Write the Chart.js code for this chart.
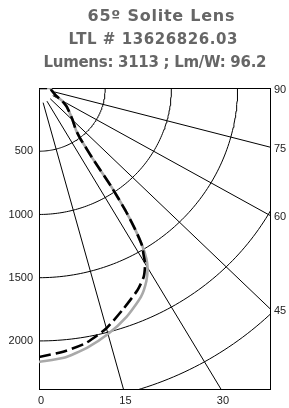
<!DOCTYPE html>
<html>
<head>
<meta charset="utf-8">
<script src="https://cdn.jsdelivr.net/npm/chart.js@4"></script>
<style>
  body { margin: 0; background: #fff; }
</style>
</head>
<body>
<canvas id="myChart" width="289" height="408"></canvas>
<script>
// title lines
const titulo = ['65º Solite Lens', 'LTL # 13626826.03', 'Lumens: 3113 ; Lm/W: 96.2'];

// candela distribution (angle from nadir, degrees -> candela)
const angulos = [0, 5, 10, 15, 20, 25, 28, 30, 31, 32, 33, 34, 35, 36, 37, 38, 40, 45, 50, 55, 60, 65, 70, 75, 80, 85, 90, 92.5];
const candelaSolida = [2166, 2142, 2086, 2014, 1928, 1822, 1728, 1640, 1575, 1475, 1335, 1165, 950, 690, 580, 505, 435, 360, 300, 255, 200, 140, 120, 105, 95, 90, 88, 0];
const candelaPunteada = [2127, 2093, 2047, 1967, 1860, 1762, 1687, 1603, 1532, 1470, 1335, 1165, 950, 690, 580, 505, 435, 360, 300, 255, 200, 140, 120, 105, 95, 90, 88, 0];

// grid
const radios = [500, 1000, 1500, 2000, 2500];
const rayos = [0, 15, 30, 45, 60, 75, 90];
const ticksCandela = [500, 1000, 1500, 2000];
const ticksAbajo = [0, 15, 30];
const ticksDerecha = [90, 75, 60, 45];

// visible range of the box (candela)
const XMAX = 1745;
const YMAX = 2380;

const rad = a => a * Math.PI / 180;
const polar = (r, a) => ({ x: r * Math.sin(rad(a)), y: r * Math.cos(rad(a)) });

const circulos = radios.map(r => {
    const pts = [];
    for (let a = 0; a <= 90; a += 1) pts.push(polar(r, a));
    return pts;
});
const lineasRayos = rayos.map(a => [polar(120, a), polar(6000, a)]);

const gridSets = [...circulos, ...lineasRayos].map(pts => ({
    data: pts,
    showLine: true,
    borderColor: '#000',
    borderWidth: 1,
    pointRadius: 0,
    order: 5
}));

// title: left edge, baseline, width, font size of each line
const tituloPlugin = {
    id: 'tituloPlugin',
    afterDraw(chart) {
        const c = chart.ctx;
        const lineas = [[87.5, 20.5, 147, 16], [68.5, 44, 169, 15], [43.5, 67, 223, 15]];
        c.save();
        c.fillStyle = '#666';
        c.textAlign = 'left';
        c.textBaseline = 'alphabetic';
        titulo.forEach((t, i) => {
            const [x, y, w, size] = lineas[i];
            c.font = 'bold ' + size + 'px "DejaVu Sans"';
            c.letterSpacing = '0px';
            const medida = c.measureText(t).width;
            c.letterSpacing = ((w - medida) / (t.length - 1)) + 'px';
            c.fillText(t, x, y);
        });
        c.restore();
    }
};

const fuente = { family: 'Liberation Sans, Arial', size: 11 };

new Chart(document.getElementById('myChart'), {
    type: 'scatter',
    data: {
        datasets: [
            {
                data: angulos.map((a, i) => polar(candelaPunteada[i], a)),
                showLine: true,
                borderColor: '#000',
                borderWidth: 2.6,
                borderDash: [12, 5],
                pointRadius: 0,
                tension: 0.2,
                order: 0
            },
            {
                data: angulos.map((a, i) => polar(candelaSolida[i], a)),
                showLine: true,
                borderColor: '#a9a9a9',
                borderWidth: 2.6,
                pointRadius: 0,
                tension: 0.2,
                order: 1
            },
            ...gridSets
        ]
    },
    options: {
        responsive: false,
        animation: false,
        layout: { padding: { top: 88 } },
        plugins: {
            legend: { display: false },
            tooltip: { enabled: false }
        },
        scales: {
            x: {
                type: 'linear',
                position: 'bottom',
                min: 0,
                max: XMAX,
                grid: { display: false, drawTicks: false },
                border: { color: '#000', width: 1 },
                ticks: {
                    font: fuente,
                    color: '#222',
                    padding: 5,
                    labelOffset: 2,
                    autoSkip: false,
                    maxRotation: 0,
                    callback: (v, i) => ticksAbajo[i]
                },
                afterBuildTicks: s => { s.ticks = ticksAbajo.map(a => ({ value: YMAX * Math.tan(rad(a)) })); },
                afterFit: s => { s.height = 19; }
            },
            xTop: {
                type: 'linear',
                position: 'top',
                min: 0,
                max: XMAX,
                grid: { display: false, drawTicks: false },
                border: { color: '#000', width: 1 },
                ticks: { display: false },
                afterFit: s => { s.height = 0; }
            },
            y: {
                type: 'linear',
                position: 'left',
                min: 0,
                max: YMAX,
                reverse: true,
                grid: { display: false, drawTicks: false },
                border: { color: '#000', width: 1 },
                ticks: {
                    font: fuente,
                    color: '#222',
                    padding: 6,
                    autoSkip: false,
                    callback: v => v
                },
                afterBuildTicks: s => { s.ticks = ticksCandela.map(v => ({ value: v })); },
                afterFit: s => { s.width = 39; }
            },
            y2: {
                type: 'linear',
                position: 'right',
                min: 0,
                max: YMAX,
                reverse: true,
                grid: { display: false, drawTicks: false },
                border: { color: '#000', width: 1 },
                ticks: {
                    font: fuente,
                    color: '#222',
                    padding: 4,
                    labelOffset: 2,
                    autoSkip: false,
                    callback: (v, i) => ticksDerecha[i]
                },
                afterBuildTicks: s => {
                    s.ticks = ticksDerecha.map(a => ({ value: a === 90 ? 0 : XMAX / Math.tan(rad(a)) }));
                },
                afterFit: s => { s.width = 19; }
            }
        }
    },
    plugins: [tituloPlugin]
});
</script>
</body>
</html>
